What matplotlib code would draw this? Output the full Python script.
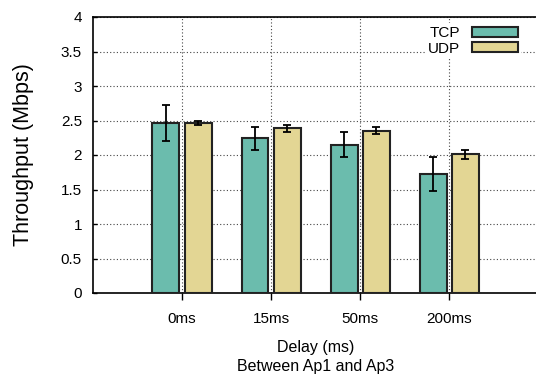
import matplotlib
matplotlib.use('Agg')
import matplotlib.pyplot as plt
import numpy as np

plt.rcParams['font.family'] = ['Liberation Sans', 'DejaVu Sans']

# data
delays = ['0ms', '15ms', '50ms', '200ms']
tcp = [2.47, 2.24, 2.15, 1.73]
tcp_lo = [2.21, 2.07, 1.97, 1.48]
tcp_hi = [2.72, 2.41, 2.33, 1.97]
udp = [2.47, 2.39, 2.35, 2.01]
udp_lo = [2.44, 2.34, 2.31, 1.94]
udp_hi = [2.50, 2.43, 2.40, 2.07]

fig = plt.figure(figsize=(5.36, 3.74), dpi=100)
W, H = 536, 374
# axes box in pixels (right edge runs off the picture, as in the reference)
left, right, top, bottom = 93, 538.3, 17, 293
ax = fig.add_axes([left / W, 1 - bottom / H, (right - left) / W, (bottom - top) / H])

x = np.arange(len(delays))
bw = 0.303
off = 0.181

tcp_err = [np.array(tcp) - np.array(tcp_lo), np.array(tcp_hi) - np.array(tcp)]
udp_err = [np.array(udp) - np.array(udp_lo), np.array(udp_hi) - np.array(udp)]

ax.bar(x - off, tcp, bw, color='#6bbcad', edgecolor='#222222', linewidth=1.5,
       label='TCP', zorder=3)
ax.bar(x + off, udp, bw, color='#e3d694', edgecolor='#222222', linewidth=1.5,
       label='UDP', zorder=3)
ax.errorbar(x - off, tcp, yerr=tcp_err, fmt='none', ecolor='black',
            elinewidth=1.3, capsize=3, capthick=1.3, zorder=4)
ax.errorbar(x + off, udp, yerr=udp_err, fmt='none', ecolor='black',
            elinewidth=1.3, capsize=3, capthick=1.3, zorder=4)

ax.set_xlim(-1, 4)
ax.set_ylim(0, 4)
ax.set_xticks(x)
ax.set_xticklabels(delays, fontsize=11)
ax.set_yticks(np.arange(0, 4.01, 0.5))
ax.set_yticklabels(['0', '0.5', '1', '1.5', '2', '2.5', '3', '3.5', '4'], fontsize=11)
ax.tick_params(axis='y', direction='in', length=3, pad=8, width=1)
ax.tick_params(axis='x', direction='out', length=5, pad=9, width=1)

ax.grid(True, linestyle=(0, (1, 2)), color='#444444', linewidth=0.8, zorder=0)
ax.set_axisbelow(True)
for s in ax.spines.values():
    s.set_linewidth(1.2)
ax.spines['right'].set_visible(False)

ax.set_ylabel('Throughput (Mbps)', fontsize=15.5, labelpad=19)
ax.set_xlabel('Delay (ms)\nBetween Ap1 and Ap3', fontsize=11.5, labelpad=10,
              linespacing=1.3)

leg = ax.legend(loc='upper right', bbox_to_anchor=(521 / W, 1 - 23 / H),
                bbox_transform=fig.transFigure, frameon=True, fontsize=11,
                markerfirst=False, handlelength=3.0, handleheight=0.65,
                labelspacing=0.1, handletextpad=0.8, borderpad=0.2,
                borderaxespad=0)
leg.get_frame().set_edgecolor('none')
leg.get_frame().set_facecolor('white')
leg.get_frame().set_alpha(1)

fig.savefig('out.png', dpi=100)
